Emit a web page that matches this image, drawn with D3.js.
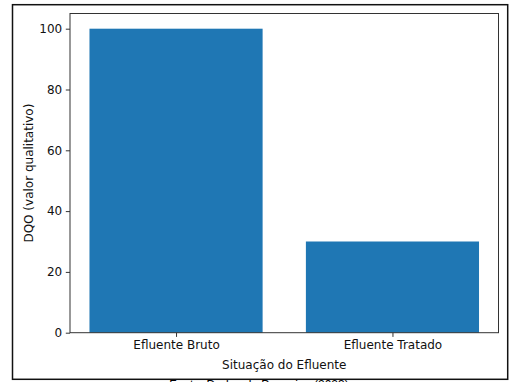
<!DOCTYPE html>
<html>
<head>
<meta charset="utf-8">
<script src="https://cdn.jsdelivr.net/npm/d3@7"></script>
<style>
  body { margin: 0; background: #fff; }
  svg { display: block; }
</style>
</head>
<body>
<div id="chart"></div>
<script>
// data
const categories = ["Efluente Bruto", "Efluente Tratado"];
const values = [100, 30];
const yTicks = [0, 20, 40, 60, 80, 100];
const xTitle = "Situação do Efluente";
const yTitle = "DQO (valor qualitativo)";
const caption = "Fonte: Dados da Pesquisa (2023)";

const W = 519, H = 382;
const margin = { top: 13.5, right: 20.5, bottom: 49.3, left: 70 };
const width = W - margin.left - margin.right,
  height = H - margin.top - margin.bottom;
const font = "'DejaVu Sans', sans-serif";

const svg = d3.select("#chart")
  .append("svg")
  .attr("width", W)
  .attr("height", H)
  .style("font-family", font);

// outer frame around the figure
svg.append("rect")
  .attr("x", 12.5).attr("y", 4.7)
  .attr("width", 495.2).attr("height", 374.6)
  .attr("fill", "none")
  .attr("stroke", "#111")
  .attr("stroke-width", 1.5);

const g = svg.append("g")
  .attr("transform", "translate(" + margin.left + "," + margin.top + ")");

// matplotlib-like limits: bar width 0.8, 5% margins
const idx = categories.map((d, i) => i);
const xScale = d3.scaleLinear().domain([-0.49, 1.49]).range([0, width]);
const yScale = d3.scaleLinear().domain([0, 105]).range([height, 0]);
const barW = 0.8;

g.selectAll("rect.bar")
  .data(values)
  .enter()
  .append("rect")
  .attr("class", "bar")
  .attr("x", (d, i) => xScale(i - barW / 2))
  .attr("width", xScale(barW) - xScale(0))
  .attr("y", d => yScale(d))
  .attr("height", d => height - yScale(d))
  .attr("fill", "#1f77b4");

// axes
const xAxis = g.append("g")
  .attr("transform", "translate(0," + height + ")")
  .call(d3.axisBottom(xScale).tickValues(idx).tickFormat(i => categories[i])
    .tickSizeInner(4.2).tickSizeOuter(0).tickPadding(3.6));

const yAxis = g.append("g")
  .call(d3.axisLeft(yScale).tickValues(yTicks)
    .tickSizeInner(4.2).tickSizeOuter(0).tickPadding(3.6));

[xAxis, yAxis].forEach(a => {
  a.attr("font-family", null).attr("font-size", null);
  a.select(".domain").remove();
  a.selectAll(".tick line").attr("stroke", "#333").attr("stroke-width", 1);
  a.selectAll(".tick text")
    .attr("fill", "#111")
    .style("font-family", font)
    .style("font-size", "12px");
});

// spines
g.append("rect")
  .attr("x", 0).attr("y", 0)
  .attr("width", width).attr("height", height)
  .attr("fill", "none")
  .attr("stroke", "#333")
  .attr("stroke-width", 1);

// titles
g.append("text")
  .attr("x", width / 2)
  .attr("y", height + 36.5)
  .attr("text-anchor", "middle")
  .style("font-size", "12px")
  .attr("fill", "#111")
  .text(xTitle);

g.append("text")
  .attr("transform", "translate(" + (-37.5) + "," + height / 2 + ") rotate(-90)")
  .attr("text-anchor", "middle")
  .style("font-size", "12px")
  .attr("fill", "#111")
  .text(yTitle);

// caption below the frame (cut off by the window, as in the source)
svg.append("text")
  .attr("x", 259)
  .attr("y", 389)
  .attr("text-anchor", "middle")
  .style("font-family", "'Liberation Sans', Arial, sans-serif")
  .style("font-size", "12px")
  .attr("fill", "#000")
  .text(caption);
</script>
</body>
</html>
